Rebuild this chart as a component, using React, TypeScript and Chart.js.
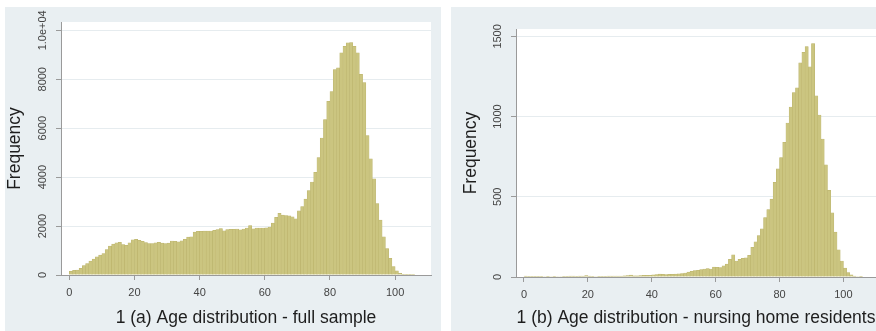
import React, { useEffect, useRef } from "react";
import { Chart, registerables } from "chart.js";

Chart.register(...registerables);

const FONT = "'Liberation Sans', Arial, Helvetica, sans-serif";

// Histogram bins: one-year bins starting at age 0
const FIRST_AGE = 0;
const BIN_WIDTH = 1;

const X_TICKS = [0, 20, 40, 60, 80, 100];

const FULL_Y_TICKS = [0, 2000, 4000, 6000, 8000, 10000];
const FULL_Y_LABELS = ["0", "2000", "4000", "6000", "8000", "1.0e+04"];

const NH_Y_TICKS = [0, 500, 1000, 1500];
const NH_Y_LABELS = ["0", "500", "1000", "1500"];

// Counts per one-year age bin, ages 0..105 — full sample
const FULL_SAMPLE = [
  150, 190, 200, 270, 380, 470, 570, 650, 740, 810,
  880, 1040, 1180, 1260, 1310, 1340, 1240, 1210, 1310, 1440,
  1460, 1420, 1380, 1320, 1280, 1280, 1310, 1340, 1300, 1280,
  1300, 1390, 1380, 1360, 1400, 1460, 1550, 1560, 1750, 1780,
  1780, 1790, 1790, 1800, 1830, 1860, 1900, 1810, 1860, 1870,
  1870, 1880, 1850, 1880, 1920, 2020, 1890, 1920, 1920, 1920,
  1930, 1960, 2120, 2360, 2520, 2450, 2430, 2420, 2380, 2300,
  2620, 2800, 3100, 3450, 3800, 4200, 4800, 5600, 6350, 7100,
  7500, 8400, 8470, 9080, 9350, 9490, 9500, 9350, 9080, 8200,
  7860, 5700, 4750, 3930, 2920, 2240, 1560, 1080, 680, 340,
  175, 70, 30, 12, 6, 3,
];

// Counts per one-year age bin, ages 0..105 — nursing home residents
const NURSING_HOME = [
  5, 2, 2, 1, 2, 2, 3, 4, 3, 2,
  3, 3, 4, 4, 5, 5, 4, 5, 6, 9,
  5, 4, 3, 4, 4, 4, 5, 5, 6, 6,
  6, 7, 9, 12, 8, 7, 9, 10, 10, 11,
  14, 15, 18, 16, 15, 17, 16, 18, 20, 22,
  25, 30, 36, 40, 42, 46, 50, 52, 50, 62,
  60, 58, 70, 80, 110, 138, 100, 110, 116, 120,
  135, 185, 220, 258, 300, 370, 420, 485, 590, 675,
  745, 840, 960, 1060, 1150, 1180, 1335, 1400, 1437, 1310,
  1455, 1130, 1010, 860, 700, 540, 400, 280, 170, 100,
  55, 28, 14, 6, 3, 1,
];

const TITLE_FULL = "1 (a) Age distribution - full sample";
const TITLE_NH = "1 (b) Age distribution - nursing home residents";
const Y_TITLE = "Frequency";

const PANEL_BG = "#e9eff2";
const BAR_FILL = "#cbc580";
const BAR_EDGE = "#bab26a";
const AXIS_COLOR = "#9a9a9a";
const GRID_COLOR = "#e6ecef";
const TICK_TEXT = "#444444";
const TITLE_TEXT = "#1e1e1e";

// White plot region behind the bars
const plotAreaPlugin = {
  id: "plotArea",
  beforeDraw(chart: any) {
    const { ctx, chartArea: a } = chart;
    ctx.save();
    ctx.fillStyle = "#ffffff";
    ctx.fillRect(a.left, a.top, a.right - a.left, a.bottom - a.top);
    ctx.restore();
  },
};

// Vertical y tick labels, reading bottom to top, centred on each tick
const rotatedYLabelsPlugin = {
  id: "rotatedYLabels",
  afterDraw(chart: any, _args: any, opts: any) {
    const scale = chart.scales.y;
    const ctx = chart.ctx;
    ctx.save();
    ctx.font = `11px ${FONT}`;
    ctx.fillStyle = TICK_TEXT;
    ctx.textAlign = "center";
    ctx.textBaseline = "middle";
    scale.ticks.forEach((t: any, i: number) => {
      const py = scale.getPixelForValue(t.value);
      ctx.save();
      ctx.translate(chart.chartArea.left - opts.offset, py);
      ctx.rotate(-Math.PI / 2);
      ctx.fillText(opts.labels[i], 0, 0);
      ctx.restore();
    });
    ctx.restore();
  },
};

type PanelSpec = {
  counts: number[];
  title: string;
  yTicks: number[];
  yLabels: string[];
  yMax: number;
  xMin: number;
  xMax: number;
  padTop: number;
  padRight: number;
  yAxisWidth: number;
  xAxisHeight: number;
  yTitlePad: number;
};

function makeChart(canvas: HTMLCanvasElement, p: PanelSpec) {
  const data = p.counts.map((c, i) => ({
    x: FIRST_AGE + i * BIN_WIDTH + BIN_WIDTH / 2,
    y: c,
  }));
  return new Chart(canvas, {
    type: "bar",
    data: {
      datasets: [
        {
          data,
          backgroundColor: BAR_FILL,
          borderColor: BAR_EDGE,
          borderWidth: 0.5,
          borderSkipped: "bottom",
          barPercentage: 1,
          categoryPercentage: 1,
        },
      ],
    },
    plugins: [plotAreaPlugin, rotatedYLabelsPlugin],
    options: {
      responsive: false,
      animation: false,
      events: [],
      layout: { padding: { top: p.padTop, right: p.padRight, left: 0, bottom: 0 } },
      plugins: {
        legend: { display: false },
        tooltip: { enabled: false },
        rotatedYLabels: { labels: p.yLabels, offset: 18 },
      } as any,
      scales: {
        x: {
          type: "linear",
          min: p.xMin,
          max: p.xMax,
          offset: false,
          afterBuildTicks: (s: any) => {
            s.ticks = X_TICKS.map((v) => ({ value: v }));
          },
          afterFit: (s: any) => {
            s.height = p.xAxisHeight;
          },
          grid: {
            offset: false,
            drawOnChartArea: false,
            drawTicks: true,
            tickLength: 5,
            tickColor: AXIS_COLOR,
            tickWidth: 1,
          },
          border: { display: true, color: AXIS_COLOR, width: 1 },
          ticks: {
            color: TICK_TEXT,
            font: { family: FONT, size: 11 },
            padding: 6,
            maxRotation: 0,
            callback: (v: any) => String(v),
          },
          title: {
            display: true,
            text: p.title,
            color: TITLE_TEXT,
            font: { family: FONT, size: 17.5 },
            padding: { top: 0, bottom: 2 },
          },
        },
        y: {
          type: "linear",
          min: 0,
          max: p.yMax,
          afterBuildTicks: (s: any) => {
            s.ticks = p.yTicks.map((v) => ({ value: v }));
          },
          afterFit: (s: any) => {
            s.width = p.yAxisWidth;
          },
          grid: {
            color: (c: any) => (c.tick && c.tick.value === 0 ? "rgba(0,0,0,0)" : GRID_COLOR),
            lineWidth: 1,
            drawTicks: true,
            tickLength: 5,
            tickColor: AXIS_COLOR,
            tickWidth: 1,
          },
          border: { display: true, color: AXIS_COLOR, width: 1 },
          ticks: { display: false },
          title: {
            display: true,
            text: Y_TITLE,
            color: TITLE_TEXT,
            font: { family: FONT, size: 17.5 },
            padding: { top: p.yTitlePad, bottom: 0 },
          },
        },
      },
    } as any,
  });
}

function Panel(props: { spec: PanelSpec; left: number; width: number }) {
  const ref = useRef<HTMLCanvasElement | null>(null);
  useEffect(() => {
    if (!ref.current) return;
    const chart = makeChart(ref.current, props.spec);
    return () => chart.destroy();
  }, []);
  return (
    <div
      style={{
        position: "absolute",
        left: props.left,
        top: 7,
        width: props.width,
        height: 324,
        background: PANEL_BG,
      }}
    >
      <canvas ref={ref} width={props.width} height={324} style={{ display: "block" }} />
    </div>
  );
}

const FULL_SPEC: PanelSpec = {
  counts: FULL_SAMPLE,
  title: TITLE_FULL,
  yTicks: FULL_Y_TICKS,
  yLabels: FULL_Y_LABELS,
  yMax: 10340,
  xMin: -2.55,
  xMax: 111,
  padTop: 15,
  padRight: 10,
  yAxisWidth: 56,
  xAxisHeight: 56,
  yTitlePad: 0,
};

const NH_SPEC: PanelSpec = {
  counts: NURSING_HOME,
  title: TITLE_NH,
  yTicks: NH_Y_TICKS,
  yLabels: NH_Y_LABELS,
  yMax: 1546,
  xMin: -2.5,
  xMax: 110.2,
  padTop: 22,
  padRight: 0,
  yAxisWidth: 65,
  xAxisHeight: 54,
  yTitlePad: 9.5,
};

export default function App() {
  useEffect(() => {
    document.body.style.margin = "0";
  }, []);
  return (
    <div style={{ position: "relative", width: 876, height: 331, background: "#ffffff", overflow: "hidden" }}>
      <Panel spec={FULL_SPEC} left={5} width={436} />
      <Panel spec={NH_SPEC} left={451} width={425} />
    </div>
  );
}
